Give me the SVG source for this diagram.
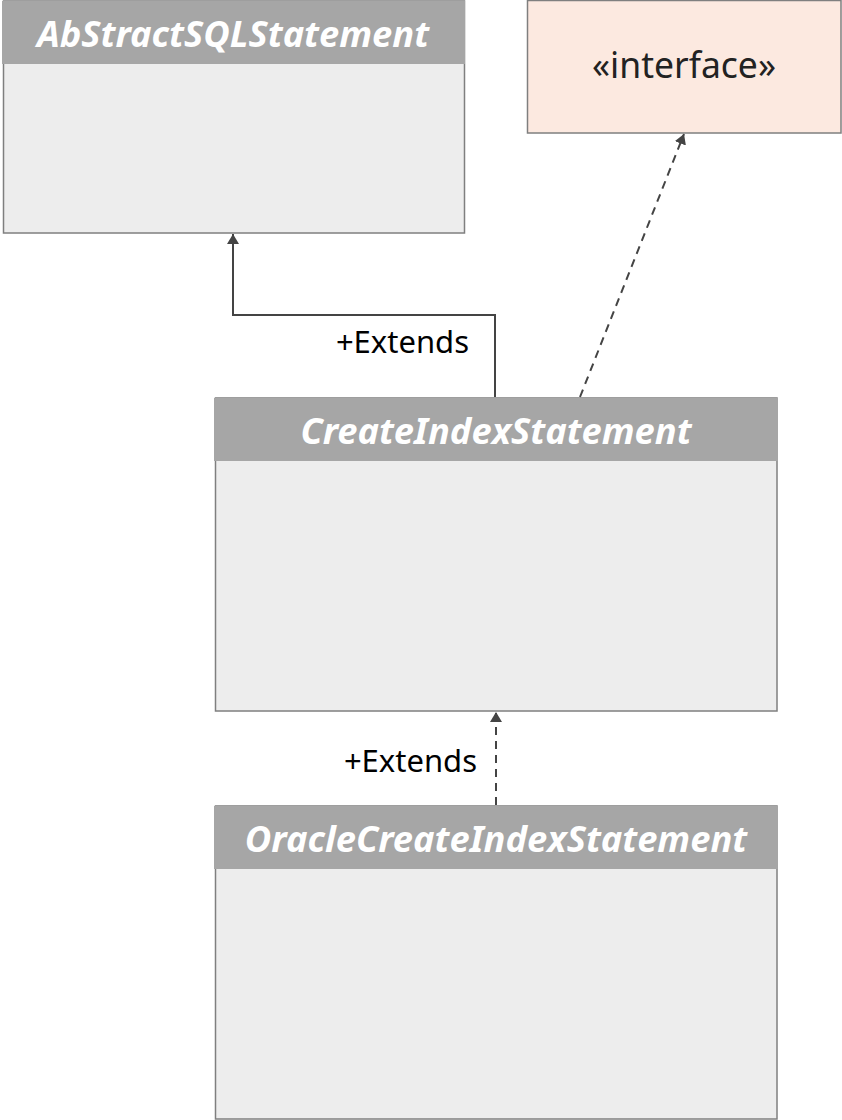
<svg xmlns="http://www.w3.org/2000/svg" width="842" height="1120" viewBox="0 0 842 1120">
<style>
.body{fill:#ededed;stroke:#7f7f7f;stroke-width:1.5}
.head{fill:#a6a6a6}
.title{font-family:"Noto Sans","Open Sans",sans-serif;font-weight:bold;font-style:italic;font-size:36.3px;fill:#ffffff;text-anchor:middle}
.lbl{font-family:"Noto Sans","Open Sans",sans-serif;font-size:31px;fill:#000000;text-anchor:end}
.conn{fill:none;stroke:#444444;stroke-width:2}
.dash{stroke-dasharray:8 6}
</style>
<defs>
<marker id="arr" viewBox="0 0 10 12" refX="10" refY="6" markerWidth="10" markerHeight="12" markerUnits="userSpaceOnUse" orient="auto">
<path d="M0,0 L10,6 L0,12 Z" fill="#444444"/>
</marker>
</defs>
<g id="abstract-sql-statement">
<rect class="body" x="3.5" y="1" width="461" height="232"/>
<rect class="head" x="2" y="1" width="463" height="63"/>
<text class="title" x="233" y="46.5">AbStractSQLStatement</text>
</g>
<g id="interface">
<rect x="527.5" y="0.5" width="313.5" height="132.5" fill="#fce9e0" stroke="#7f7f7f" stroke-width="1.5"/>
<text x="684" y="78" font-family="'Noto Sans','Open Sans',sans-serif" font-size="35.5" fill="#222222" text-anchor="middle">«interface»</text>
</g>
<g id="create-index-statement">
<rect class="body" x="215.5" y="398" width="561.5" height="313"/>
<rect class="head" x="214" y="398" width="564" height="63"/>
<text class="title" x="496" y="443.5">CreateIndexStatement</text>
</g>
<g id="oracle-create-index-statement">
<rect class="body" x="215.5" y="806" width="561.5" height="313"/>
<rect class="head" x="214" y="806" width="564" height="63"/>
<text class="title" x="496" y="851.5">OracleCreateIndexStatement</text>
</g>
<g id="connectors">
<path class="conn" d="M495,397 L495,315 L233,315 L233,234" marker-end="url(#arr)"/>
<text class="lbl" x="469" y="353">+Extends</text>
<path class="conn dash" d="M580,397 L684,134" marker-end="url(#arr)"/>
<path class="conn dash" d="M496,805 L496,712" marker-end="url(#arr)"/>
<text class="lbl" x="477" y="772">+Extends</text>
</g>
</svg>
